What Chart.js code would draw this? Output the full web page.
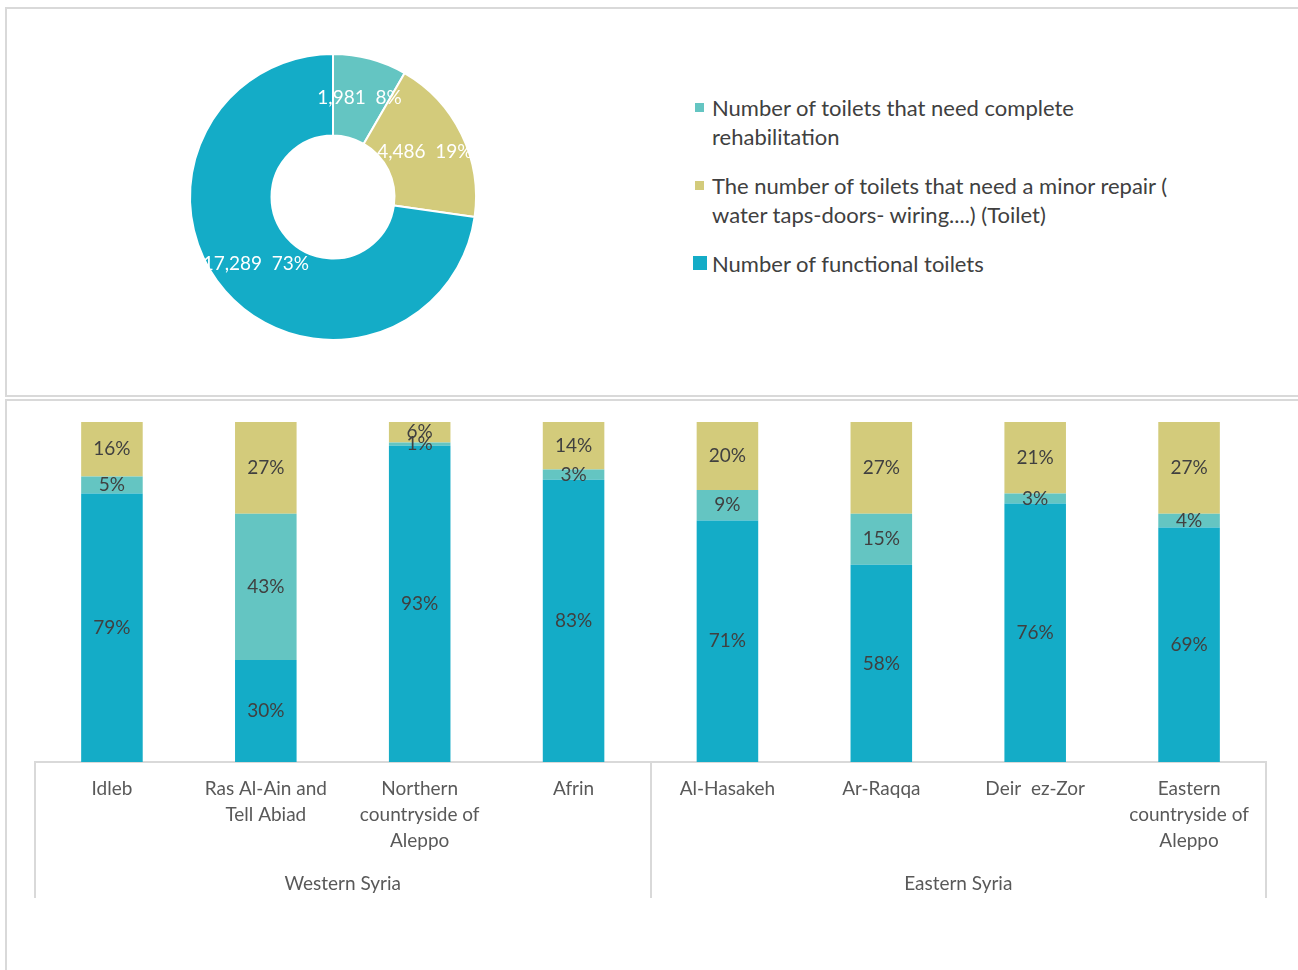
<!DOCTYPE html>
<html>
<head>
<meta charset="utf-8">
<script src="https://cdn.jsdelivr.net/npm/chart.js@4.4.1/dist/chart.umd.min.js"></script>
<style>
  html, body { margin: 0; padding: 0; background: #fff; }
  body { width: 1298px; height: 970px; position: relative; overflow: hidden; font-family: Lato, 'Open Sans', sans-serif; }
  .panel { position: absolute; border: 2px solid #d9d9d9; box-sizing: border-box; }
  #panelTop { left: 5px; top: 7px; width: 1330px; height: 390px; }
  #panelBottom { left: 5px; top: 399px; width: 1330px; height: 640px; }
  #pieBox { position: absolute; left: 183px; top: 47px; width: 300px; height: 300px; }
  #barBox { position: absolute; left: 0; top: 400px; width: 1298px; height: 570px; }
  #pieLegend { position: absolute; left: 693px; top: 93px; width: 500px; margin: 0; padding: 0; list-style: none; }
  #pieLegend li { position: relative; padding-left: 19px; font-size: 22px; line-height: 29px; color: #404040; margin-bottom: 20px; }
  #pieLegend li span { position: absolute; left: 2px; top: 10px; width: 9px; height: 9px; }
  #pieLegend li:last-child span { left: 0; top: 7px; width: 14px; height: 14px; }
</style>
</head>
<body>
<div class="panel" id="panelTop"></div>
<div class="panel" id="panelBottom"></div>
<div id="pieBox"><canvas id="pieChart"></canvas></div>
<ul id="pieLegend"></ul>
<div id="barBox"><canvas id="barChart"></canvas></div>

<script>
// Totals of toilets by condition
const pieLabels = [
  'Number of toilets that need complete rehabilitation',
  'The number of toilets that need a minor repair ( water taps-doors- wiring....) (Toilet)',
  'Number of functional toilets'
];
const pieCounts = [1981, 4486, 17289];
const pieColors = ['#64C5C2', '#D3CB7B', '#14ACC7'];

// Share per area (%)
const areas = [
  ['Idleb'], ['Ras Al-Ain and', 'Tell Abiad'], ['Northern', 'countryside of', 'Aleppo'], ['Afrin'],
  ['Al-Hasakeh'], ['Ar-Raqqa'], ['Deir  ez-Zor'], ['Eastern', 'countryside of', 'Aleppo']
];
const areaGroups = ['Western Syria', 'Eastern Syria'];
const groupSizes = [4, 4];
const functionalPct = [79, 30, 93, 83, 71, 58, 76, 69];
const completeRehabPct = [5, 43, 1, 3, 9, 15, 3, 4];
const minorRepairPct = [16, 27, 6, 14, 20, 27, 21, 27];

const FONT = 'Lato, "Open Sans", sans-serif';

// value + percent written on each slice
const sliceLabels = {
  id: 'sliceLabels',
  afterDatasetsDraw(chart) {
    const ctx = chart.ctx;
    const data = chart.data.datasets[0].data;
    const total = data.reduce((a, b) => a + b, 0);
    ctx.save();
    ctx.font = '19px ' + FONT;
    ctx.fillStyle = '#ffffff';
    ctx.textAlign = 'center';
    ctx.textBaseline = 'middle';
    chart.getDatasetMeta(0).data.forEach((arc, i) => {
      const p = arc.tooltipPosition();
      const pct = Math.round(data[i] / total * 100);
      ctx.fillText(data[i].toLocaleString('en-US') + '  ' + pct + '%', p.x, p.y);
    });
    ctx.restore();
  }
};

const pie = new Chart(document.getElementById('pieChart'), {
  type: 'doughnut',
  data: {
    labels: pieLabels,
    datasets: [{
      data: pieCounts,
      backgroundColor: pieColors,
      borderColor: '#ffffff',
      borderWidth: 2,
      hoverOffset: 0
    }]
  },
  options: {
    responsive: true,
    maintainAspectRatio: false,
    animation: false,
    cutout: '43%',
    layout: { padding: 6 },
    plugins: { legend: { display: false }, tooltip: { enabled: false } }
  },
  plugins: [sliceLabels]
});

// legend list built from the doughnut's own data
document.getElementById('pieLegend').innerHTML = pie.data.labels.map((lab, i) =>
  `<li><span style="background:${pieColors[i]}"></span>${lab}</li>`).join('');

// percentage written in the middle of each stacked segment
const segmentLabels = {
  id: 'segmentLabels',
  afterDatasetsDraw(chart) {
    const ctx = chart.ctx;
    ctx.save();
    ctx.font = '19px ' + FONT;
    ctx.fillStyle = '#404040';
    ctx.textAlign = 'center';
    ctx.textBaseline = 'middle';
    chart.data.datasets.forEach((ds, i) => {
      chart.getDatasetMeta(i).data.forEach((bar, j) => {
        const { x, y, base } = bar.getProps(['x', 'y', 'base'], true);
        ctx.fillText(ds.data[j] + '%', x, (y + base) / 2);
      });
    });
    ctx.restore();
  }
};

// group row under the category labels, with dividers
const groupAxis = {
  id: 'groupAxis',
  afterDraw(chart) {
    const sx = chart.scales.x;
    const ctx = chart.ctx;
    ctx.save();
    ctx.strokeStyle = '#d9d9d9';
    ctx.lineWidth = 2;
    ctx.font = '19px ' + FONT;
    ctx.fillStyle = '#595959';
    ctx.textAlign = 'center';
    ctx.textBaseline = 'middle';
    let start = 0;
    const edges = [sx.getPixelForValue(-0.5)];
    areaGroups.forEach((g, k) => {
      const end = start + groupSizes[k];
      const left = sx.getPixelForValue(start - 0.5);
      const right = sx.getPixelForValue(end - 0.5);
      edges.push(right);
      ctx.fillText(g, (left + right) / 2, sx.bottom - 14);
      start = end;
    });
    edges.forEach(px => {
      ctx.beginPath();
      ctx.moveTo(Math.round(px), sx.top);
      ctx.lineTo(Math.round(px), sx.bottom);
      ctx.stroke();
    });
    ctx.restore();
  }
};

new Chart(document.getElementById('barChart'), {
  type: 'bar',
  data: {
    labels: areas,
    datasets: [
      { label: pieLabels[2], data: functionalPct, backgroundColor: pieColors[2] },
      { label: pieLabels[0], data: completeRehabPct, backgroundColor: pieColors[0] },
      { label: pieLabels[1], data: minorRepairPct, backgroundColor: pieColors[1] }
    ]
  },
  options: {
    responsive: true,
    maintainAspectRatio: false,
    animation: false,
    layout: { padding: { top: 22, bottom: 72, left: 35, right: 32 } },
    datasets: { bar: { categoryPercentage: 1, barPercentage: 0.4 } },
    plugins: { legend: { display: false }, tooltip: { enabled: false } },
    scales: {
      x: {
        stacked: true,
        grid: { display: false, drawTicks: false },
        border: { display: true, color: '#d9d9d9', width: 2 },
        ticks: {
          color: '#595959',
          padding: 14,
          maxRotation: 0,
          autoSkip: false,
          font: { family: FONT, size: 19, lineHeight: 26 / 19 }
        },
        afterFit(scale) { scale.height = 136; }
      },
      y: { stacked: true, display: false, min: 0, max: 100 }
    }
  },
  plugins: [segmentLabels, groupAxis]
});
</script>
</body>
</html>
